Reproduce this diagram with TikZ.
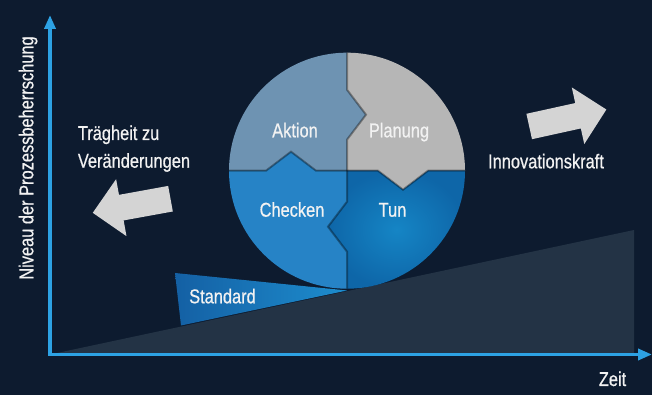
\documentclass[tikz,border=0pt]{standalone}
\usepackage{fontspec}
\newfontfamily\condfont{Liberation Sans}[FakeStretch=0.82,FakeBold=0.6]
\usepackage{tikz}
\usetikzlibrary{arrows.meta}
\definecolor{bgnavy}{HTML}{0D1B2F}
\definecolor{slopegray}{HTML}{233345}
\definecolor{axisblue}{HTML}{2DA2E4}
\definecolor{aktioncol}{HTML}{6E93B2}
\definecolor{planungcol}{HTML}{B6B6B6}
\definecolor{checkencol}{HTML}{2683C6}
\definecolor{tuninner}{HTML}{1585C5}
\definecolor{tunouter}{HTML}{0E66A8}
\definecolor{stdleft}{HTML}{1460A4}
\definecolor{stdright}{HTML}{1D8DCE}
\definecolor{arrowgray}{HTML}{D4D4D4}
\definecolor{textwhite}{HTML}{F2F2F2}
\def\blockarrow(#1)(#2){\fill[arrowgray, shift={(#1)}, rotate=#2] (0,-13) -- (50,-13) -- (50,-29) -- (79,0) -- (50,29) -- (50,13) -- (0,13) -- cycle;}
\tikzset{lbl/.style={text=textwhite, font=\condfont\fontsize{20}{24}\selectfont, inner sep=0pt}}

\begin{document}
\begin{tikzpicture}[x=1pt,y=1pt]
		%%%%% START %%%%%
		
		\fill[bgnavy] (0,0) rectangle (652,395);
		\useasboundingbox (0,0) rectangle (652,395);
		
		\coordinate (origin) at (50,40.5);
		\coordinate (ytip) at (50,380);
		\coordinate (xtip) at (652,40.5);
		
		\fill[slopegray] (origin) -- (634,165) -- (634,40.5) -- cycle;
		\shade[left color=stdleft, right color=stdright] (175,122) -- (347,104.5) -- (181,69.5) -- cycle;
		
		\begin{scope}[shift={(347,224.3)}]
			\fill[aktioncol] (0,0) -- (0,31) -- (19,56) -- (0,81) -- (0,118) arc (90:180:118pt) -- (-81,0) -- (-56,19) -- (-31,0) -- cycle;
			\fill[planungcol] (0,0) -- (0,31) -- (19,56) -- (0,81) -- (0,118) arc (90:0:118pt) -- (81,0) -- (56,-19) -- (31,0) -- cycle;
			\shade[inner color=tuninner, outer color=tunouter] (0,0) -- (31,0) -- (56,-19) -- (81,0) -- (118,0) arc (0:-90:118pt) -- (0,-81) -- (-19,-56) -- (0,-31) -- cycle;
			\fill[checkencol] (0,0) -- (0,-31) -- (-19,-56) -- (0,-81) -- (0,-118) arc (-90:-180:118pt) -- (-81,0) -- (-56,19) -- (-31,0) -- cycle;
			
			\draw[black, opacity=0.35, line width=2pt] (0,118) -- (0,81) -- (19,56) -- (0,31) -- (0,0) -- (31,0) -- (56,-19) -- (81,0) -- (118,0);
			\draw[black, opacity=0.35, line width=2pt] (-118,0) -- (-81,0) -- (-56,19) -- (-31,0) -- (0,0) -- (0,-31) -- (-19,-56) -- (0,-81) -- (0,-118);
		\end{scope}
		
		\node[lbl, anchor=base] (aktion) at (295,257.7) {Aktion};
		\node[lbl, anchor=base] (planung) at (399,257.7) {Planung};
		\node[lbl, anchor=base] (checken) at (292,178.3) {Checken};
		\node[lbl, anchor=base] (tun) at (392.5,178.3) {Tun};
		\node[lbl, anchor=base] (standard) at (222.5,91.7) {Standard};
		
		\blockarrow(170.5,196.3)(190.3)
		\blockarrow(529.2,268.5)(12.4)
		
		\node[lbl, anchor=base west] (traegheit) at (77.7,255) {Trägheit zu};
		\node[lbl, anchor=base west] (veraenderung) at (77.7,227.3) {Veränderungen};
		\node[lbl, anchor=base] (innovation) at (546,226.7) {Innovationskraft};
		
		\draw[axisblue, line width=3.5pt, line join=miter, {Triangle[width=11pt,length=14pt]}-{Triangle[width=11pt,length=14pt]}] (ytip) -- (origin) -- (xtip);
		
		\node[lbl, anchor=base] (zeit) at (612.5,9) {Zeit};
		\node[lbl, anchor=base, rotate=90] (niveau) at (33.3,237) {Niveau der Prozessbeherrschung};
		
		%%%%% END %%%%%
\end{tikzpicture}
\end{document}
